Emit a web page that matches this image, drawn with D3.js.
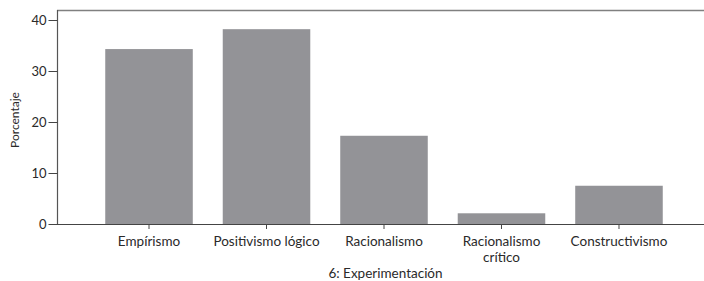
<!DOCTYPE html>
<html><head><meta charset="utf-8">
<script src="https://cdn.jsdelivr.net/npm/d3@7/dist/d3.min.js"></script>
<style>
html,body{margin:0;padding:0;background:#fff;}
text{font-family:Lato,"Open Sans",sans-serif;fill:#2a2a2a;}
</style></head>
<body><svg id="c" width="704" height="281"></svg>
<script>
const categories = ["Empírismo", "Positivismo lógico", "Racionalismo", "Racionalismo\ncrítico", "Constructivismo"];
const values = [34.3, 38.2, 17.3, 2.1, 7.5];
const yTicks = [0, 10, 20, 30, 40];
const xTitle = "6: Experimentación";
const yTitle = "Porcentaje";

const svg = d3.select("#c");
const mLeft = 57, mRight = 704, mTop = 10, mBottom = 224;

const x = d3.scaleBand().domain(categories).range([70, 698]).paddingInner(0.255).paddingOuter(0.3);
const y = d3.scaleLinear().domain([0, 40]).range([mBottom, 20]);

// frame
svg.append("line").attr("x1", mLeft).attr("x2", mRight).attr("y1", mTop + 0.5).attr("y2", mTop + 0.5)
  .attr("stroke", "#808080").attr("stroke-width", 1.5);
svg.append("line").attr("x1", mLeft + 0.5).attr("x2", mLeft + 0.5).attr("y1", mTop).attr("y2", mBottom)
  .attr("stroke", "#555").attr("stroke-width", 1.2);

// bars
svg.selectAll("rect.bar").data(values).enter().append("rect")
  .attr("x", (d, i) => x(categories[i]))
  .attr("width", x.bandwidth())
  .attr("y", d => y(d))
  .attr("height", d => y(0) - y(d))
  .attr("fill", "#939397");

// x axis line
svg.append("line").attr("x1", mLeft).attr("x2", mRight).attr("y1", mBottom + 0.5).attr("y2", mBottom + 0.5)
  .attr("stroke", "#444").attr("stroke-width", 1.2);

// y axis
const yAxis = d3.axisLeft(y).tickValues(yTicks).tickSize(9).tickPadding(2);
const gy = svg.append("g").attr("transform", `translate(${mLeft + 0.5},0)`).call(yAxis);
gy.select(".domain").remove();
gy.selectAll(".tick line").attr("stroke", "#444");
gy.selectAll(".tick text").style("font-size", "13px").attr("fill", "#2a2a2a").style("font-family", "Lato, sans-serif");

// x axis ticks
const xAxis = d3.axisBottom(x).tickSize(5).tickFormat("");
const gx = svg.append("g").attr("transform", `translate(0,${mBottom})`).call(xAxis);
gx.select(".domain").remove();
gx.selectAll(".tick line").attr("stroke", "#444");

// x labels (multi-line, one text per line)
categories.forEach(c => {
  const lines = c.split("\n");
  const cx = x(c) + x.bandwidth() / 2;
  lines.forEach((l, i) => svg.append("text").attr("text-anchor", "middle")
    .attr("x", cx).attr("y", 246 + i * 16).style("font-size", "13.5px").text(l));
});

svg.append("text").attr("text-anchor", "middle").attr("x", 385.5).attr("y", 278)
  .style("font-size", "13.5px").text(xTitle);
svg.append("text").attr("text-anchor", "middle").attr("transform", `translate(19,120) rotate(-90)`)
  .style("font-size", "12px").text(yTitle);
</script></body></html>
